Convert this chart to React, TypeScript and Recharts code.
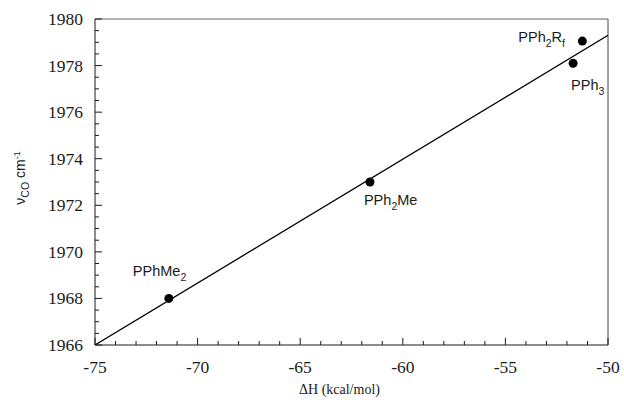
import { ReferenceLine, Scatter, ScatterChart, XAxis, YAxis } from "recharts";

// ΔH (kcal/mol) vs. ν(CO) for each phosphine
const ligands = ["PPhMe2", "PPh2Me", "PPh3", "PPh2Rf"];
const deltaH = [-71.4, -61.6, -51.7, -51.25];
const nuCO = [1968.0, 1973.0, 1978.1, 1979.05];

// least-squares line end points
const fitX = [-75, -50];
const fitY = [1966.0, 1979.3];

const xTicks = [
  -75, -74, -73, -72, -71, -70, -69, -68, -67, -66, -65, -64, -63, -62, -61,
  -60, -59, -58, -57, -56, -55, -54, -53, -52, -51, -50,
];
const yTicks = [
  1966, 1966.5, 1967, 1967.5, 1968, 1968.5, 1969, 1969.5, 1970, 1970.5, 1971,
  1971.5, 1972, 1972.5, 1973, 1973.5, 1974, 1974.5, 1975, 1975.5, 1976, 1976.5,
  1977, 1977.5, 1978, 1978.5, 1979, 1979.5, 1980,
];

const points = ligands.map((name, i) => ({ name, x: deltaH[i], y: nuCO[i] }));
const fit = fitX.map((x, i) => ({ x, y: fitY[i] }));

const serif = "Liberation Serif, DejaVu Serif, serif";
const sans = "Liberation Sans, Arial, sans-serif";
const ink = "#1a1a1a";

// label text split into [text, isSubscript] runs, plus offset from the dot
const labelRuns: Record<string, [string, boolean][]> = {
  PPhMe2: [["PPhMe", false], ["2", true]],
  PPh2Me: [["PPh", false], ["2", true], ["Me", false]],
  PPh3: [["PPh", false], ["3", true]],
  PPh2Rf: [["PPh", false], ["2", true], ["R", false], ["f", true]],
};
const labelOffset: Record<string, [number, number]> = {
  PPhMe2: [-36, -22],
  PPh2Me: [-6, 23],
  PPh3: [-2, 27],
  PPh2Rf: [-64, 1],
};

function Dot(props: any) {
  const { cx, cy, payload } = props;
  const runs = labelRuns[payload.name];
  const [dx, dy] = labelOffset[payload.name];
  let sub = false;
  return (
    <g>
      <circle cx={cx} cy={cy} r={4.5} fill="#000" />
      <text x={cx + dx} y={cy + dy} fontFamily={sans} fontSize={14.5} fill={ink}>
        {runs.map(([t, isSub], i) => {
          const shift = isSub === sub ? 0 : isSub ? 5 : -5;
          sub = isSub;
          return (
            <tspan key={i} dy={shift} fontSize={isSub ? 10.5 : 14.5}>
              {t}
            </tspan>
          );
        })}
      </text>
    </g>
  );
}

function XTick(props: any) {
  const { x, y, payload } = props;
  const major = payload.value % 5 === 0;
  return (
    <g>
      <line x1={x} x2={x} y1={y} y2={y - (major ? 7 : 4)} stroke={ink} />
      {major && (
        <text
          x={x}
          y={y + 28}
          textAnchor="middle"
          fontFamily={serif}
          fontSize={17.5}
          style={{ fontFamily: serif }}
          fill={ink}
        >
          {String(payload.value)}
        </text>
      )}
    </g>
  );
}

function YTick(props: any) {
  const { x, y, payload } = props;
  const major = payload.value % 2 === 0;
  return (
    <g>
      <line x1={x} x2={x + (major ? 7 : 4)} y1={y} y2={y} stroke={ink} />
      {major && (
        <text
          x={x - 12}
          y={y + 6}
          textAnchor="end"
          fontFamily={serif}
          fontSize={17.5}
          style={{ fontFamily: serif }}
          fill={ink}
        >
          {String(payload.value)}
        </text>
      )}
    </g>
  );
}

function XTitle(props: any) {
  const { viewBox } = props;
  return (
    <text
      x={viewBox.x + viewBox.width / 2 - 12}
      y={394}
      textAnchor="middle"
      fontFamily={serif}
      fontSize={14}
      fill={ink}
    >
      ΔH (kcal/mol)
    </text>
  );
}

function YTitle() {
  return (
    <text
      transform="translate(25, 178) rotate(-90)"
      textAnchor="middle"
      fontFamily={sans}
      fontSize={14}
      fill={ink}
    >
      <tspan>ν</tspan>
      <tspan dy={4} fontSize={10.5}>CO</tspan>
      <tspan dy={-4}> cm</tspan>
      <tspan dy={-5} fontSize={9}>-1</tspan>
    </text>
  );
}

export default function App() {
  return (
    <div style={{ position: "absolute", left: 0, top: 0, background: "#fff", fontFamily: serif }}>
      <ScatterChart width={624} height={402} margin={{ top: 19, right: 16, bottom: 0, left: 0 }}>
        <XAxis
          type="number"
          dataKey="x"
          domain={[-75, -50]}
          ticks={xTicks}
          interval={0}
          allowDataOverflow
          height={57}
          tickSize={0}
          tickMargin={0}
          tick={<XTick />}
          axisLine={{ stroke: ink }}
          label={<XTitle />}
        />
        <YAxis
          type="number"
          dataKey="y"
          domain={[1966, 1980]}
          ticks={yTicks}
          interval={0}
          allowDataOverflow
          width={95}
          tickSize={0}
          tickMargin={0}
          tick={<YTick />}
          axisLine={{ stroke: ink }}
          label={<YTitle />}
        />
        <ReferenceLine y={1980} stroke="#666" />
        <ReferenceLine x={-50} stroke="#444" />
        <Scatter
          data={fit}
          line={{ stroke: "#000", strokeWidth: 1.3 }}
          lineType="joint"
          shape={() => null}
          isAnimationActive={false}
        />
        <Scatter data={points} shape={<Dot />} isAnimationActive={false} />
      </ScatterChart>
    </div>
  );
}
